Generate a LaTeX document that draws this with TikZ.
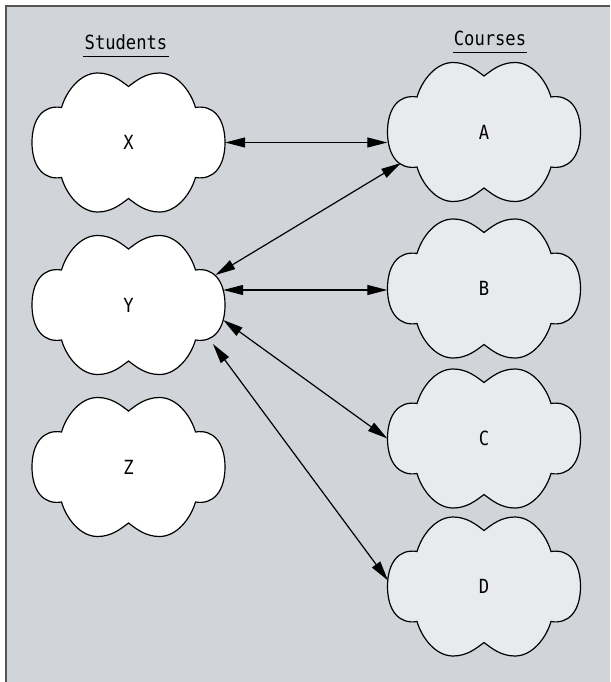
\documentclass[tikz,border=0pt]{standalone}
\usepackage{fontspec}
\newfontfamily\labelfont[FakeStretch=0.88]{DejaVu Sans Mono}
\usepackage{tikz}
\usetikzlibrary{arrows.meta,positioning}
\definecolor{panelgray}{RGB}{209,212,217}
\definecolor{coursegray}{RGB}{233,234,238}
\definecolor{framegray}{RGB}{85,85,85}
% six-lobed cloud round the origin, 193 x 139
\newcommand\cloudoutline{
  (-67,-35) .. controls (-62,-52) and (-48,-69.5) .. (-31,-69.5)
  .. controls (-17,-69.5) and (-8,-62) .. (0,-56)
  .. controls (8,-62) and (17,-69.5) .. (31,-69.5)
  .. controls (48,-69.5) and (62,-52) .. (67,-35)
  .. controls (85,-38) and (96.5,-24) .. (96.5,0)
  .. controls (96.5,24) and (85,38) .. (67,35)
  .. controls (62,52) and (48,69.5) .. (31,69.5)
  .. controls (17,69.5) and (8,62) .. (0,56)
  .. controls (-8,62) and (-17,69.5) .. (-31,69.5)
  .. controls (-48,69.5) and (-62,52) .. (-67,35)
  .. controls (-85,38) and (-96.5,24) .. (-96.5,0)
  .. controls (-96.5,-24) and (-85,-38) .. (-67,-35) -- cycle}

\begin{document}
\begin{tikzpicture}[x=1pt,y=-1pt,
  tag/.style={minimum width=193pt, minimum height=139pt, inner sep=0pt,
    font=\fontsize{19.5}{22}\labelfont},
  student/.style={draw=black, line width=1.2pt, fill=white},
  course/.style={draw=black, line width=1.2pt, fill=coursegray},
  heading/.style={font=\fontsize{19.5}{22}\labelfont,
    anchor=base, inner xsep=1pt, inner ysep=6pt},
  link/.style={{Triangle[length=20pt,width=10pt]}-{Triangle[length=20pt,width=10pt]},
    line width=1.2pt},
]
\useasboundingbox (0,0) rectangle (610,682);
% panel with frame on top and left only
\fill[panelgray] (6,6) rectangle (610,682);
\draw[framegray,line width=2pt] (6,682) -- (6,6) -- (610,6);

% column headings
\node[heading] (stu) at (126,50) {Students};
\node[heading] (crs) at (490,46) {Courses};
\draw[line width=1pt] (stu.south west) -- (stu.south east);
\draw[line width=1pt] (crs.south west) -- (crs.south east);

% clouds
\foreach \n/\x/\y in {X/128.5/142.5,Y/128.5/305,Z/128.5/467}{
  \draw[student,shift={(\x,\y)}] \cloudoutline;
  \node[tag] (\n) at (\x,\y) {\n};
}
\foreach \n/\y in {A/132,B/288.5,C/438.5,D/586.5}{
  \draw[course,shift={(484,\y)}] \cloudoutline;
  \node[tag] (\n) at (484,\y) {\n};
}

% arrow ends on the cloud outlines
\coordinate (Ya) at ([shift={(87,-30)}]Y.center);
\coordinate (Yb) at ([shift={(94.7,-15)}]Y.center);
\coordinate (Yc) at ([shift={(94.7,15)}]Y.center);
\coordinate (Yd) at ([shift={(84.5,39)}]Y.center);
\coordinate (Ay) at ([shift={(-83,31)}]A.center);
\coordinate (Dy) at ([shift={(-96,-6)}]D.center);

% enrolments
\draw[link] (X.east) -- (X.east -| A.west);
\draw[link] (Ya) -- (Ay);
\draw[link] (Yb) -- (Yb -| B.west);
\draw[link] (Yc) -- (C.west);
\draw[link] (Yd) -- (Dy);
\end{tikzpicture}
\end{document}
